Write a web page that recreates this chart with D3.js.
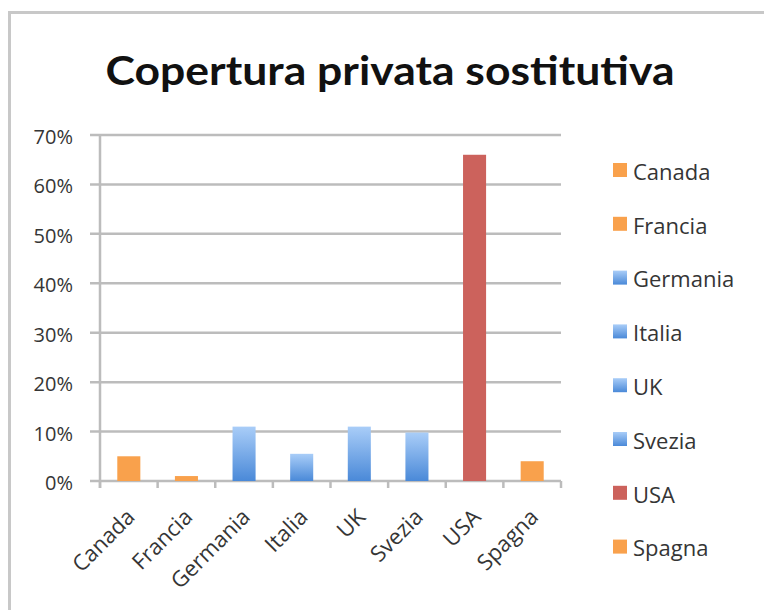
<!DOCTYPE html>
<html>
<head>
<meta charset="utf-8">
<script src="https://cdn.jsdelivr.net/npm/d3@7"></script>
<style>
  body { margin: 0; background: #fff; }
  svg { display: block; font-family: "Open Sans", sans-serif; }
</style>
</head>
<body>
<div id="chart"></div>
<script>
// data
var categories = ["Canada", "Francia", "Germania", "Italia", "UK", "Svezia", "USA", "Spagna"];
var values = [0.05, 0.01, 0.11, 0.055, 0.11, 0.098, 0.66, 0.04];
var colorKeys = ["orange", "orange", "blue", "blue", "blue", "blue", "red", "orange"];
var yTicks = [0, 0.1, 0.2, 0.3, 0.4, 0.5, 0.6, 0.7];
var title = "Copertura privata sostitutiva";

var width = 764, height = 610;
var plotLeft = 100, plotRight = 561, plotTop = 135, plotBottom = 481;

var svg = d3.select("#chart").append("svg")
	.attr("width", width)
	.attr("height", height);

var defs = svg.append("defs");
var grad = defs.append("linearGradient")
	.attr("id", "blueGrad")
	.attr("x1", 0).attr("y1", 0).attr("x2", 0).attr("y2", 1);
grad.append("stop").attr("offset", "0%").attr("stop-color", "#a9cdf8");
grad.append("stop").attr("offset", "100%").attr("stop-color", "#4a89d8");

var fills = { orange: "#f9a14c", red: "#cc625c", blue: "url(#blueGrad)" };

// outer frame (cut off at right and bottom)
svg.append("path")
	.attr("d", "M9.5," + height + "V12.5H" + width)
	.attr("fill", "none")
	.attr("stroke", "#c8c8c8")
	.attr("stroke-width", 3);

svg.append("text")
	.attr("x", 390)
	.attr("y", 85)
	.attr("text-anchor", "middle")
	.attr("font-family", "Lato, 'Open Sans', sans-serif")
	.attr("font-size", 40)
	.attr("font-weight", "bold")
	.attr("fill", "#111")
	.attr("textLength", 569)
	.attr("lengthAdjust", "spacingAndGlyphs")
	.text(title);

var x = d3.scaleBand()
	.domain(categories)
	.range([plotLeft, plotRight])
	.paddingInner(0.6)
	.paddingOuter(0.3);

var y = d3.scaleLinear()
	.domain([0, 0.7])
	.range([plotBottom, plotTop]);

// gridlines with left tick stubs
svg.append("g")
	.selectAll("line")
	.data(yTicks)
	.enter()
	.append("line")
	.attr("x1", plotLeft - 10)
	.attr("x2", plotRight)
	.attr("y1", function(d) { return y(d); })
	.attr("y2", function(d) { return y(d); })
	.attr("stroke", "#bcbcbc")
	.attr("stroke-width", 2.5);

svg.append("g")
	.selectAll("text")
	.data(yTicks)
	.enter()
	.append("text")
	.attr("x", 73)
	.attr("y", function(d) { return y(d) + 2; })
	.attr("dy", "0.35em")
	.attr("text-anchor", "end")
	.attr("font-size", 20)
	.attr("fill", "#353535")
	.text(d3.format(".0%"));

// y axis line
svg.append("line")
	.attr("x1", plotLeft).attr("x2", plotLeft)
	.attr("y1", plotTop).attr("y2", plotBottom + 7)
	.attr("stroke", "#bcbcbc")
	.attr("stroke-width", 2.5);

// category ticks at band boundaries
var boundaries = d3.range(categories.length + 1).map(function(i) { return plotLeft + i * x.step(); });
svg.append("g")
	.selectAll("line")
	.data(boundaries)
	.enter()
	.append("line")
	.attr("x1", function(d) { return d; })
	.attr("x2", function(d) { return d; })
	.attr("y1", plotBottom)
	.attr("y2", plotBottom + 7)
	.attr("stroke", "#bcbcbc")
	.attr("stroke-width", 2.5);

// bars
svg.append("g")
	.selectAll("rect")
	.data(categories)
	.enter()
	.append("rect")
	.attr("x", function(d) { return x(d); })
	.attr("width", x.bandwidth())
	.attr("y", function(d, i) { return y(values[i]); })
	.attr("height", function(d, i) { return plotBottom - y(values[i]); })
	.attr("fill", function(d, i) { return fills[colorKeys[i]]; });

// rotated category labels
svg.append("g")
	.selectAll("text")
	.data(categories)
	.enter()
	.append("text")
	.attr("transform", function(d) {
		return "translate(" + (x(d) + x.bandwidth() / 2 + 2) + "," + 513 + ") rotate(-45)";
	})
	.attr("dy", "0.35em")
	.attr("text-anchor", "end")
	.attr("font-size", 22)
	.attr("fill", "#353535")
	.text(function(d) { return d; });

// legend
var legend = svg.append("g")
	.selectAll("g")
	.data(categories)
	.enter()
	.append("g")
	.attr("transform", function(d, i) { return "translate(613," + (171 + i * 53.8) + ")"; });

legend.append("rect")
	.attr("x", 0)
	.attr("y", -8)
	.attr("width", 14)
	.attr("height", 14)
	.attr("fill", function(d, i) { return fills[colorKeys[i]]; });

legend.append("text")
	.attr("x", 20)
	.attr("y", 1)
	.attr("dy", "0.35em")
	.attr("font-size", 22)
	.attr("fill", "#353535")
	.text(function(d) { return d; });
</script>
</body>
</html>
